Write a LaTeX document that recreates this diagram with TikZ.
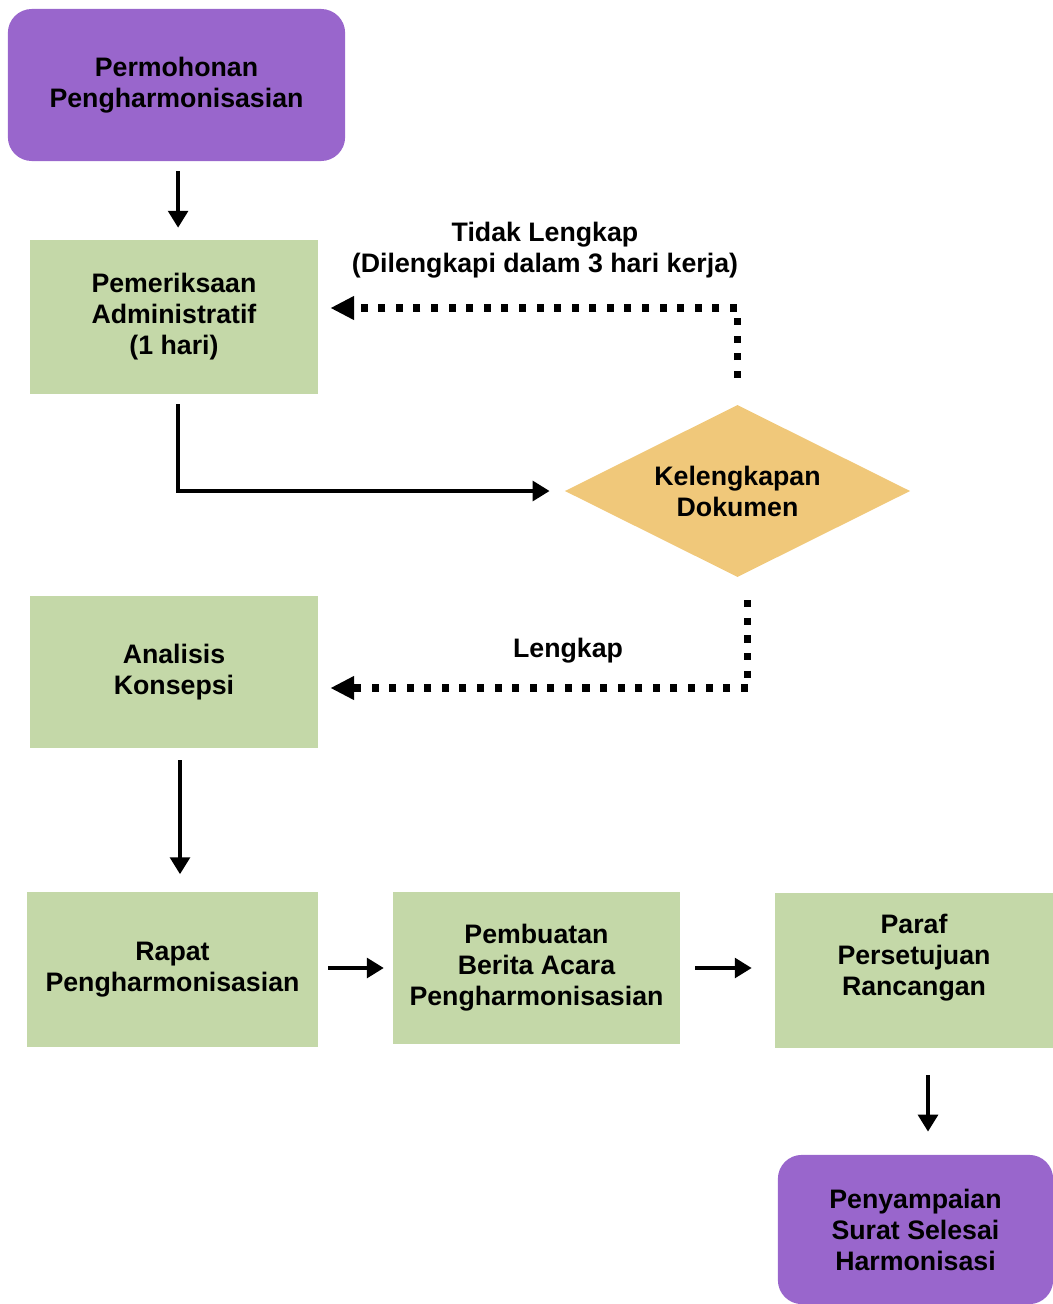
\documentclass[tikz,border=0pt]{standalone}
\usepackage{fontspec}
\setmainfont{Liberation Sans}
\usetikzlibrary{arrows.meta,shapes.geometric}
\definecolor{ungu}{RGB}{153,102,204}
\definecolor{hijau}{RGB}{196,216,168}
\definecolor{kuning}{RGB}{240,200,122}

\begin{document}
\begin{tikzpicture}[x=0.025cm,y=-0.025cm,
        teks/.style={font=\fontsize{19}{22}\selectfont\bfseries,align=center},
        kotak/.style={teks,fill=hijau,minimum height=3.85cm},
        ujung/.style={teks,fill=ungu,rounded corners=0.6cm,minimum height=3.8cm},
        panah/.style={line width=2.6pt,-{Triangle[length=12pt,width=14pt]}},
        putus/.style={line width=5pt,dash pattern=on 5pt off 7.5pt,-{Triangle[length=17pt,width=16pt]}}]
        \useasboundingbox (0,0) rectangle (1053,1304);

        \node[ujung,minimum width=8.43cm] (mohon) at (176.5,85) {Permohonan\\Pengharmonisasian};
        \node[kotak,minimum width=7.2cm] (periksa) at (174,317) {Pemeriksaan\\Administratif\\(1 hari)};
        \node[teks,diamond,aspect=2,fill=kuning,minimum width=8.63cm,minimum height=4.3cm,inner sep=0pt] (dokumen) at (737.5,491) {Kelengkapan\\Dokumen};
        \node[kotak,minimum width=7.2cm,minimum height=3.8cm] (analisis) at (174,672) {Analisis\\Konsepsi};
        \node[kotak,minimum width=7.28cm] (rapat) at (172.5,969.5) {Rapat\\Pengharmonisasian};
        \node[kotak,minimum width=7.18cm,minimum height=3.8cm] (berita) at (536.5,968) {Pembuatan\\Berita Acara\\Pengharmonisasian};
        \node[kotak,minimum width=6.95cm,minimum height=3.88cm,text depth=0.8cm] (paraf) at (914,970.5) {Paraf\\Persetujuan\\Rancangan};
        \node[ujung,minimum width=6.88cm,minimum height=3.73cm] (sampai) at (915.5,1229.5) {Penyampaian\\Surat Selesai\\Harmonisasi};

        \node[teks] (tidak) at (545,250) {Tidak Lengkap\\(Dilengkapi dalam 3 hari kerja)};
        \node[teks] (lengkap) at (568,651) {Lengkap};

        \draw[panah,shorten <=0.25cm,shorten >=0.3cm] ([xshift=0.04cm]mohon.south) -- ([xshift=0.04cm]mohon.south |- periksa.north);
        \draw[panah,shorten <=0.25cm,shorten >=0.375cm] ([xshift=0.1cm]periksa.south) |- (dokumen.west);
        \draw[panah,shorten <=0.3cm,shorten >=0.45cm] ([xshift=0.15cm]analisis.south) -- ([xshift=0.15cm]analisis.south |- rapat.north);
        \draw[panah,shorten <=0.25cm,shorten >=0.22cm] (rapat.east |- berita.west) -- (berita.west);
        \draw[panah,shorten <=0.375cm,shorten >=0.575cm] (berita.east) -- (berita.east -| paraf.west);
        \draw[panah,shorten <=0.675cm,shorten >=0.575cm] ([xshift=0.35cm]paraf.south) -- ([xshift=0.35cm]paraf.south |- sampai.north);

        \draw[putus] ([yshift=0.675cm]dokumen.north) |- ([xshift=0.3cm,yshift=0.225cm]periksa.east);
        \draw[putus] ([xshift=0.26cm,yshift=-0.575cm]dokumen.south) |- ([xshift=0.3cm,yshift=-0.4cm]analisis.east);
    \end{tikzpicture}
\end{document}
